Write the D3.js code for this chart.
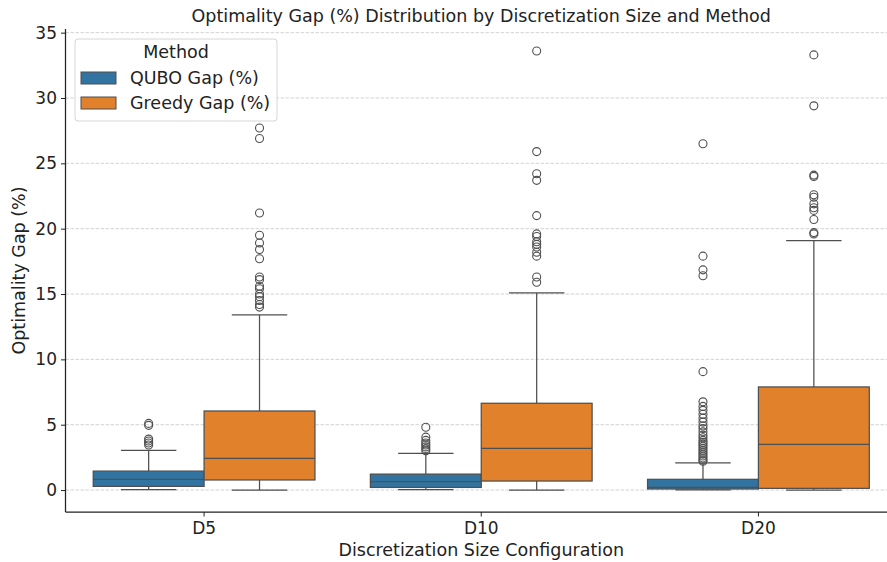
<!DOCTYPE html>
<html>
<head>
<meta charset="utf-8">
<script src="https://cdn.jsdelivr.net/npm/d3@7"></script>
<style>
  body { margin: 0; background: #fff; }
  text { font-family: "DejaVu Sans", sans-serif; fill: #222; }
</style>
</head>
<body>
<div id="chart"></div>
<script>
// categories & hue groups
const categories = ['D5', 'D10', 'D20'];
const methods = ['QUBO Gap (%)', 'Greedy Gap (%)'];
const colors = ['#3274a1', '#e1812c'];
const yTicks = [0, 5, 10, 15, 20, 25, 30, 35];

// box stats, one row per category, one column per method
const q1 = [[0.28, 0.77], [0.2, 0.69], [0.08, 0.13]];
const median = [[0.82, 2.43], [0.64, 3.19], [0.2, 3.5]];
const q3 = [[1.45, 6.05], [1.22, 6.64], [0.82, 7.89]];
const whiskerLo = [[0.03, 0], [0.03, 0], [0.01, 0]];
const whiskerHi = [[3.04, 13.4], [2.81, 15.08], [2.07, 19.09]];

// outliers
const outliersD5 = [
    [5.1, 4.95, 3.9, 3.75, 3.6, 3.45],
    [27.7, 26.9, 21.2, 19.5, 18.9, 18.4, 17.7, 16.3, 16.1, 15.6, 15.4, 15.0, 14.8, 14.5, 14.2, 14.0]
];
const outliersD10 = [
    [4.8, 4.05, 3.8, 3.6, 3.45, 3.3, 3.15, 3.0],
    [33.6, 25.9, 24.2, 23.7, 21.0, 19.6, 19.4, 19.0, 18.8, 18.6, 18.2, 17.9, 16.3, 15.9]
];
const outliersD20 = [
    [26.5, 17.9, 16.85, 16.4, 9.06, 6.75, 6.4, 6.1, 5.8, 5.5, 5.2, 4.9, 4.7, 4.45, 4.2, 4.0, 3.8, 3.65, 3.5, 3.35, 3.2, 3.05, 2.9, 2.75, 2.6, 2.45, 2.3, 2.2],
    [33.3, 29.4, 24.1, 24.0, 22.6, 22.4, 21.9, 21.6, 21.4, 20.7, 19.7, 19.6]
];
const outliers = [outliersD5, outliersD10, outliersD20];

const W = 887, H = 562;
const margin = { top: 29, right: -10, bottom: 50, left: 65.5 };
const width = W - margin.left - margin.right;
const height = H - margin.top - margin.bottom;
const fs = '17.5px';

const svg = d3.select('#chart').append('svg')
    .attr('width', W)
    .attr('height', H);

const g = svg.append('g')
    .attr('transform', `translate(${margin.left},${margin.top})`);

const x = d3.scaleBand().domain(categories).range([0, width]).padding(0);
const xHue = d3.scaleBand().domain(methods).range([x.bandwidth() * 0.1, x.bandwidth() * 0.9]).padding(0);
const y = d3.scaleLinear().domain([-1.68, 35.28]).range([height, 0]);

// grid
g.append('g')
    .selectAll('line')
    .data(yTicks)
    .join('line')
    .attr('x1', 0).attr('x2', width)
    .attr('y1', d => y(d)).attr('y2', d => y(d))
    .attr('stroke', '#c8c8c8')
    .attr('stroke-width', 0.8)
    .attr('stroke-dasharray', '3.5,1.5');

const lineColor = '#4f4f4f';

// boxes
categories.forEach((cat, ci) => {
    methods.forEach((m, mi) => {
        const x0 = x(cat) + xHue(m);
        const bw = xHue.bandwidth();
        const cx = x0 + bw / 2;
        const bg = g.append('g');
        // whiskers
        bg.append('line')
            .attr('x1', cx).attr('x2', cx)
            .attr('y1', y(q3[ci][mi])).attr('y2', y(whiskerHi[ci][mi]))
            .attr('stroke', lineColor).attr('stroke-width', 1.25);
        bg.append('line')
            .attr('x1', cx).attr('x2', cx)
            .attr('y1', y(q1[ci][mi])).attr('y2', y(whiskerLo[ci][mi]))
            .attr('stroke', lineColor).attr('stroke-width', 1.25);
        [whiskerHi[ci][mi], whiskerLo[ci][mi]].forEach(v => {
            bg.append('line')
                .attr('x1', cx - bw / 4).attr('x2', cx + bw / 4)
                .attr('y1', y(v)).attr('y2', y(v))
                .attr('stroke', lineColor).attr('stroke-width', 1.25);
        });
        // box
        bg.append('rect')
            .attr('x', x0).attr('width', bw)
            .attr('y', y(q3[ci][mi]))
            .attr('height', y(q1[ci][mi]) - y(q3[ci][mi]))
            .attr('fill', colors[mi])
            .attr('stroke', lineColor).attr('stroke-width', 1.25);
        bg.append('line')
            .attr('x1', x0).attr('x2', x0 + bw)
            .attr('y1', y(median[ci][mi])).attr('y2', y(median[ci][mi]))
            .attr('stroke', lineColor).attr('stroke-width', 1.25);
        // fliers
        bg.selectAll('circle')
            .data(outliers[ci][mi])
            .join('circle')
            .attr('cx', cx)
            .attr('cy', d => y(d))
            .attr('r', 4)
            .attr('fill', 'none')
            .attr('stroke', lineColor)
            .attr('stroke-width', 1.1);
    });
});

// axes
const yAxis = g.append('g')
    .call(d3.axisLeft(y).tickValues(yTicks).tickSize(4.5).tickPadding(4));
const xAxis = g.append('g')
    .attr('transform', `translate(0,${height})`)
    .call(d3.axisBottom(x).tickSize(4.5).tickPadding(5));
[yAxis, xAxis].forEach(a => {
    a.select('.domain').attr('stroke', '#222').attr('stroke-width', 1.25);
    a.selectAll('.tick line').attr('stroke', '#222').attr('stroke-width', 1);
    a.selectAll('.tick text').style('font-size', '17px').style('font-family', '"DejaVu Sans", sans-serif').attr('fill', '#222');
});
yAxis.select('.domain').attr('d', `M0,0V${height}`);
xAxis.select('.domain').attr('d', `M0,0H${width}`);

// labels
svg.append('text')
    .attr('x', margin.left + width / 2)
    .attr('y', 22)
    .attr('text-anchor', 'middle')
    .style('font-size', fs)
    .text('Optimality Gap (%) Distribution by Discretization Size and Method');
svg.append('text')
    .attr('x', margin.left + width / 2)
    .attr('y', 556)
    .attr('text-anchor', 'middle')
    .style('font-size', fs)
    .text('Discretization Size Configuration');
svg.append('text')
    .attr('transform', `translate(25,${margin.top + y(16.8)}) rotate(-90)`)
    .attr('text-anchor', 'middle')
    .style('font-size', fs)
    .text('Optimality Gap (%)');

// legend
const lg = svg.append('g').attr('transform', 'translate(75,39)');
lg.append('rect')
    .attr('width', 202).attr('height', 82)
    .attr('rx', 3)
    .attr('fill', 'rgba(255,255,255,0.8)')
    .attr('stroke', '#d6d6d6');
lg.append('text')
    .attr('x', 101).attr('y', 19)
    .attr('text-anchor', 'middle')
    .style('font-size', fs)
    .text('Method');
methods.forEach((m, i) => {
    lg.append('rect')
        .attr('x', 6).attr('y', 33 + i * 25)
        .attr('width', 35).attr('height', 12)
        .attr('fill', colors[i])
        .attr('stroke', lineColor).attr('stroke-width', 1);
    lg.append('text')
        .attr('x', 55).attr('y', 45 + i * 25)
        .style('font-size', fs)
        .text(m);
});
</script>
</body>
</html>
